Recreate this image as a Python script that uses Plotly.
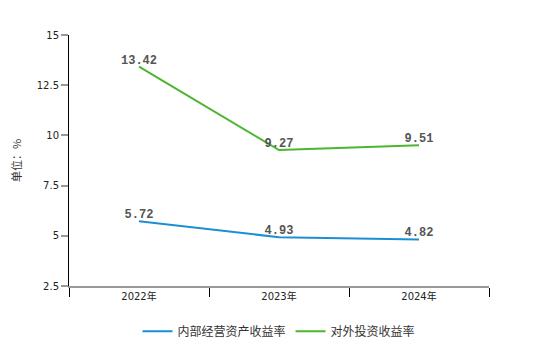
import plotly.graph_objects as go

categories = ["2022年", "2023年", "2024年"]
internal_return = [5.72, 4.93, 4.82]
external_return = [13.42, 9.27, 9.51]
series_names = ["内部经营资产收益率", "对外投资收益率"]
y_ticks = [2.5, 5, 7.5, 10, 12.5, 15]
y_tick_text = ["2.5", "5", "7.5", "10", "12.5", "15"]

label_font = dict(family="Liberation Mono, DejaVu Sans Mono, monospace", size=12, color="#555555", weight="bold")

fig = go.Figure()
fig.add_trace(go.Scatter(
    x=categories, y=internal_return, name=series_names[0],
    mode="lines+text", text=[f"{v:.2f}" for v in internal_return],
    textposition="top center", textfont=label_font,
    line=dict(color="#1b8fd2", width=2),
))
fig.add_trace(go.Scatter(
    x=categories, y=external_return, name=series_names[1],
    mode="lines+text", text=[f"{v:.2f}" for v in external_return],
    textposition="top center", textfont=label_font,
    line=dict(color="#4db52f", width=2),
))

fig.update_layout(
    width=560, height=346,
    margin=dict(l=69, r=71, t=35, b=60, autoexpand=False),
    paper_bgcolor="white", plot_bgcolor="white",
    font=dict(family="DejaVu Sans, Noto Sans CJK SC, sans-serif", size=10, color="#333333"),
    showlegend=True,
    legend=dict(orientation="h", x=0.5, xanchor="center", y=-0.238, yanchor="bottom",
                font=dict(family="Noto Sans CJK SC, sans-serif", size=12, color="#333333"),
                itemwidth=30, tracegroupgap=0),
    xaxis=dict(
        type="category", range=[-0.5, 2.5], tickson="boundaries",
        ticks="outside", ticklen=9, tickcolor="#000000", tickwidth=1,
        showline=True, linecolor="#999999", linewidth=2,
        showgrid=False, zeroline=False,
        tickfont=dict(family="DejaVu Sans, Noto Sans CJK SC, sans-serif", size=10, color="#222222"),
    ),
    yaxis=dict(
        range=[2.5, 15], tickvals=y_ticks, ticktext=y_tick_text,
        ticks="outside", ticklen=7, tickcolor="#999999", tickwidth=2,
        showline=True, linecolor="#000000", linewidth=1,
        showgrid=False, zeroline=False,
        title=dict(text="单位：%", font=dict(family="Noto Sans CJK SC, sans-serif", size=11, color="#333333"), standoff=12),
        tickfont=dict(family="DejaVu Sans, sans-serif", size=10, color="#222222"),
    ),
)

fig.write_html("out.html")
